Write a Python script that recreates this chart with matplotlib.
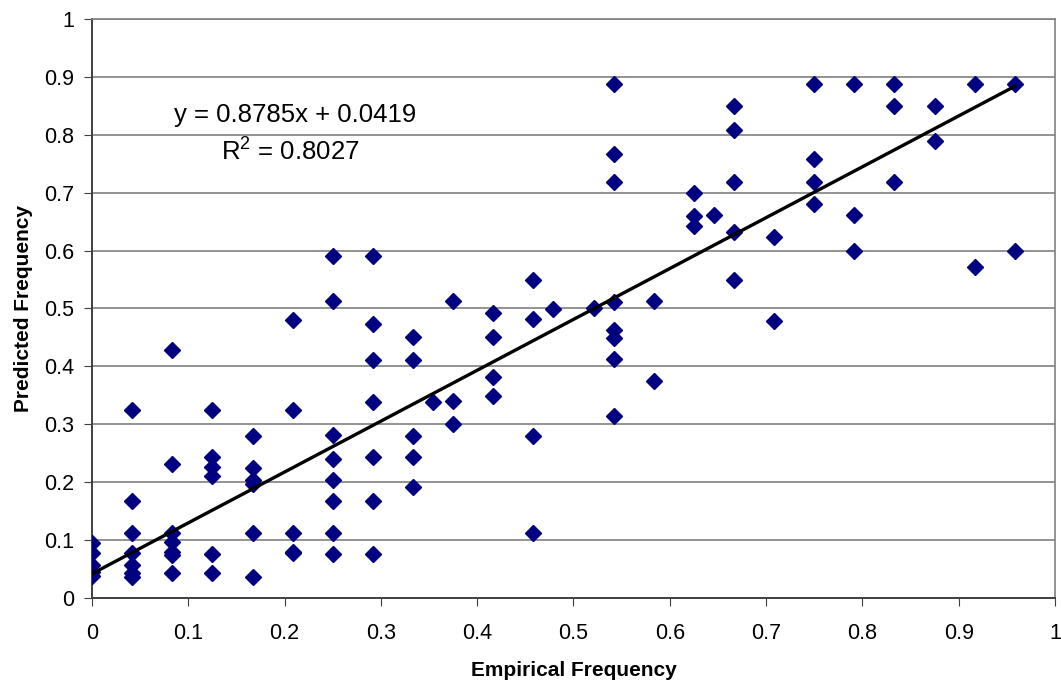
import matplotlib
matplotlib.use("Agg")
import matplotlib.pyplot as plt
import numpy as np

# empirical frequency (x) and predicted frequency (y), read column by column
emp = [
    0, 0, 0, 0, 0,
    0.0417, 0.0417, 0.0417, 0.0417, 0.0417, 0.0417, 0.0417,
    0.0833, 0.0833, 0.0833, 0.0833, 0.0833, 0.0833, 0.0833,
    0.125, 0.125, 0.125, 0.125, 0.125, 0.125,
    0.1667, 0.1667, 0.1667, 0.1667, 0.1667, 0.1667,
    0.2083, 0.2083, 0.2083, 0.2083, 0.2083,
    0.25, 0.25, 0.25, 0.25, 0.25, 0.25, 0.25, 0.25,
    0.2917, 0.2917, 0.2917, 0.2917, 0.2917, 0.2917, 0.2917,
    0.3333, 0.3333, 0.3333, 0.3333, 0.3333,
    0.3542,
    0.375, 0.375, 0.375,
    0.4167, 0.4167, 0.4167, 0.4167,
    0.4583, 0.4583, 0.4583, 0.4583,
    0.4792,
    0.5208,
    0.5417, 0.5417, 0.5417, 0.5417, 0.5417, 0.5417, 0.5417, 0.5417,
    0.5833, 0.5833,
    0.625, 0.625, 0.625,
    0.6458,
    0.6667, 0.6667, 0.6667, 0.6667, 0.6667,
    0.7083, 0.7083,
    0.75, 0.75, 0.75, 0.75,
    0.7917, 0.7917, 0.7917,
    0.8333, 0.8333, 0.8333,
    0.875, 0.875,
    0.9167, 0.9167,
    0.9583, 0.9583,
]
pred = [
    0.095, 0.077, 0.057, 0.045, 0.038,
    0.325, 0.168, 0.113, 0.077, 0.057, 0.044, 0.036,
    0.428, 0.231, 0.113, 0.096, 0.080, 0.075, 0.044,
    0.325, 0.244, 0.226, 0.210, 0.076, 0.044,
    0.280, 0.224, 0.203, 0.197, 0.113, 0.037,
    0.481, 0.325, 0.113, 0.080, 0.077,
    0.591, 0.513, 0.281, 0.240, 0.204, 0.168, 0.113, 0.076,
    0.590, 0.474, 0.411, 0.339, 0.243, 0.168, 0.076,
    0.450, 0.411, 0.280, 0.243, 0.191,
    0.339,
    0.513, 0.341, 0.300,
    0.493, 0.450, 0.382, 0.349,
    0.550, 0.482, 0.280, 0.113,
    0.499,
    0.500,
    0.887, 0.766, 0.718, 0.512, 0.463, 0.449, 0.412, 0.314,
    0.513, 0.374,
    0.700, 0.660, 0.642,
    0.661,
    0.850, 0.808, 0.718, 0.632, 0.550,
    0.624, 0.479,
    0.887, 0.759, 0.718, 0.680,
    0.887, 0.661, 0.599,
    0.887, 0.850, 0.718,
    0.850, 0.790,
    0.887, 0.571,
    0.887, 0.599,
]

slope, intercept = 0.8785, 0.0419
r2 = 0.8027
ticks = [0, 0.1, 0.2, 0.3, 0.4, 0.5, 0.6, 0.7, 0.8, 0.9, 1]
tick_labels = ["0", "0.1", "0.2", "0.3", "0.4", "0.5", "0.6", "0.7", "0.8", "0.9", "1"]

plt.rcParams["font.family"] = ["Liberation Sans", "DejaVu Sans"]
plt.rcParams["mathtext.fontset"] = "custom"
plt.rcParams["mathtext.rm"] = "Liberation Sans"
plt.rcParams["mathtext.it"] = "Liberation Sans:italic"
plt.rcParams["mathtext.bf"] = "Liberation Sans:bold"

fig = plt.figure(figsize=(10.61, 6.88), dpi=100)
ax = fig.add_axes([0.0867, 0.1308, 0.9076, 0.8416])

ax.plot(emp, pred, linestyle="none", marker="D", markersize=8.5,
        color="#000080", markeredgecolor="#000080", zorder=3)

xs = np.array([0, max(emp)])
ax.plot(xs, slope * xs + intercept, color="black", linewidth=2.4, zorder=4)

ax.set_xlim(0, 1)
ax.set_ylim(0, 1)
ax.set_xticks(ticks)
ax.set_xticklabels(tick_labels)
ax.set_yticks(ticks)
ax.set_yticklabels(tick_labels)
ax.tick_params(axis="both", labelsize=15.5, direction="out", length=6,
               color="#404040", pad=7)
ax.tick_params(axis="x", pad=12)
ax.yaxis.grid(True, color="#808080", linewidth=1.2)
ax.set_axisbelow(True)

for side in ("left", "bottom"):
    ax.spines[side].set_color("#404040")
    ax.spines[side].set_linewidth(1.4)
for side in ("right", "top"):
    ax.spines[side].set_color("#808080")
    ax.spines[side].set_linewidth(1.2)

ax.set_xlabel("Empirical Frequency", fontsize=15, fontweight="bold", labelpad=12)
ax.set_ylabel("Predicted Frequency", fontsize=15, fontweight="bold", labelpad=8)

ax.text(0.2108, 0.834, f"y = {slope}x + {intercept}", fontsize=18.5,
        ha="center", va="center")
ax.text(0.206, 0.770, r"R$^{\mathrm{2}}$" + f" = {r2}", fontsize=18.5,
        ha="center", va="center")

fig.savefig("out.png", dpi=100, facecolor="white")
